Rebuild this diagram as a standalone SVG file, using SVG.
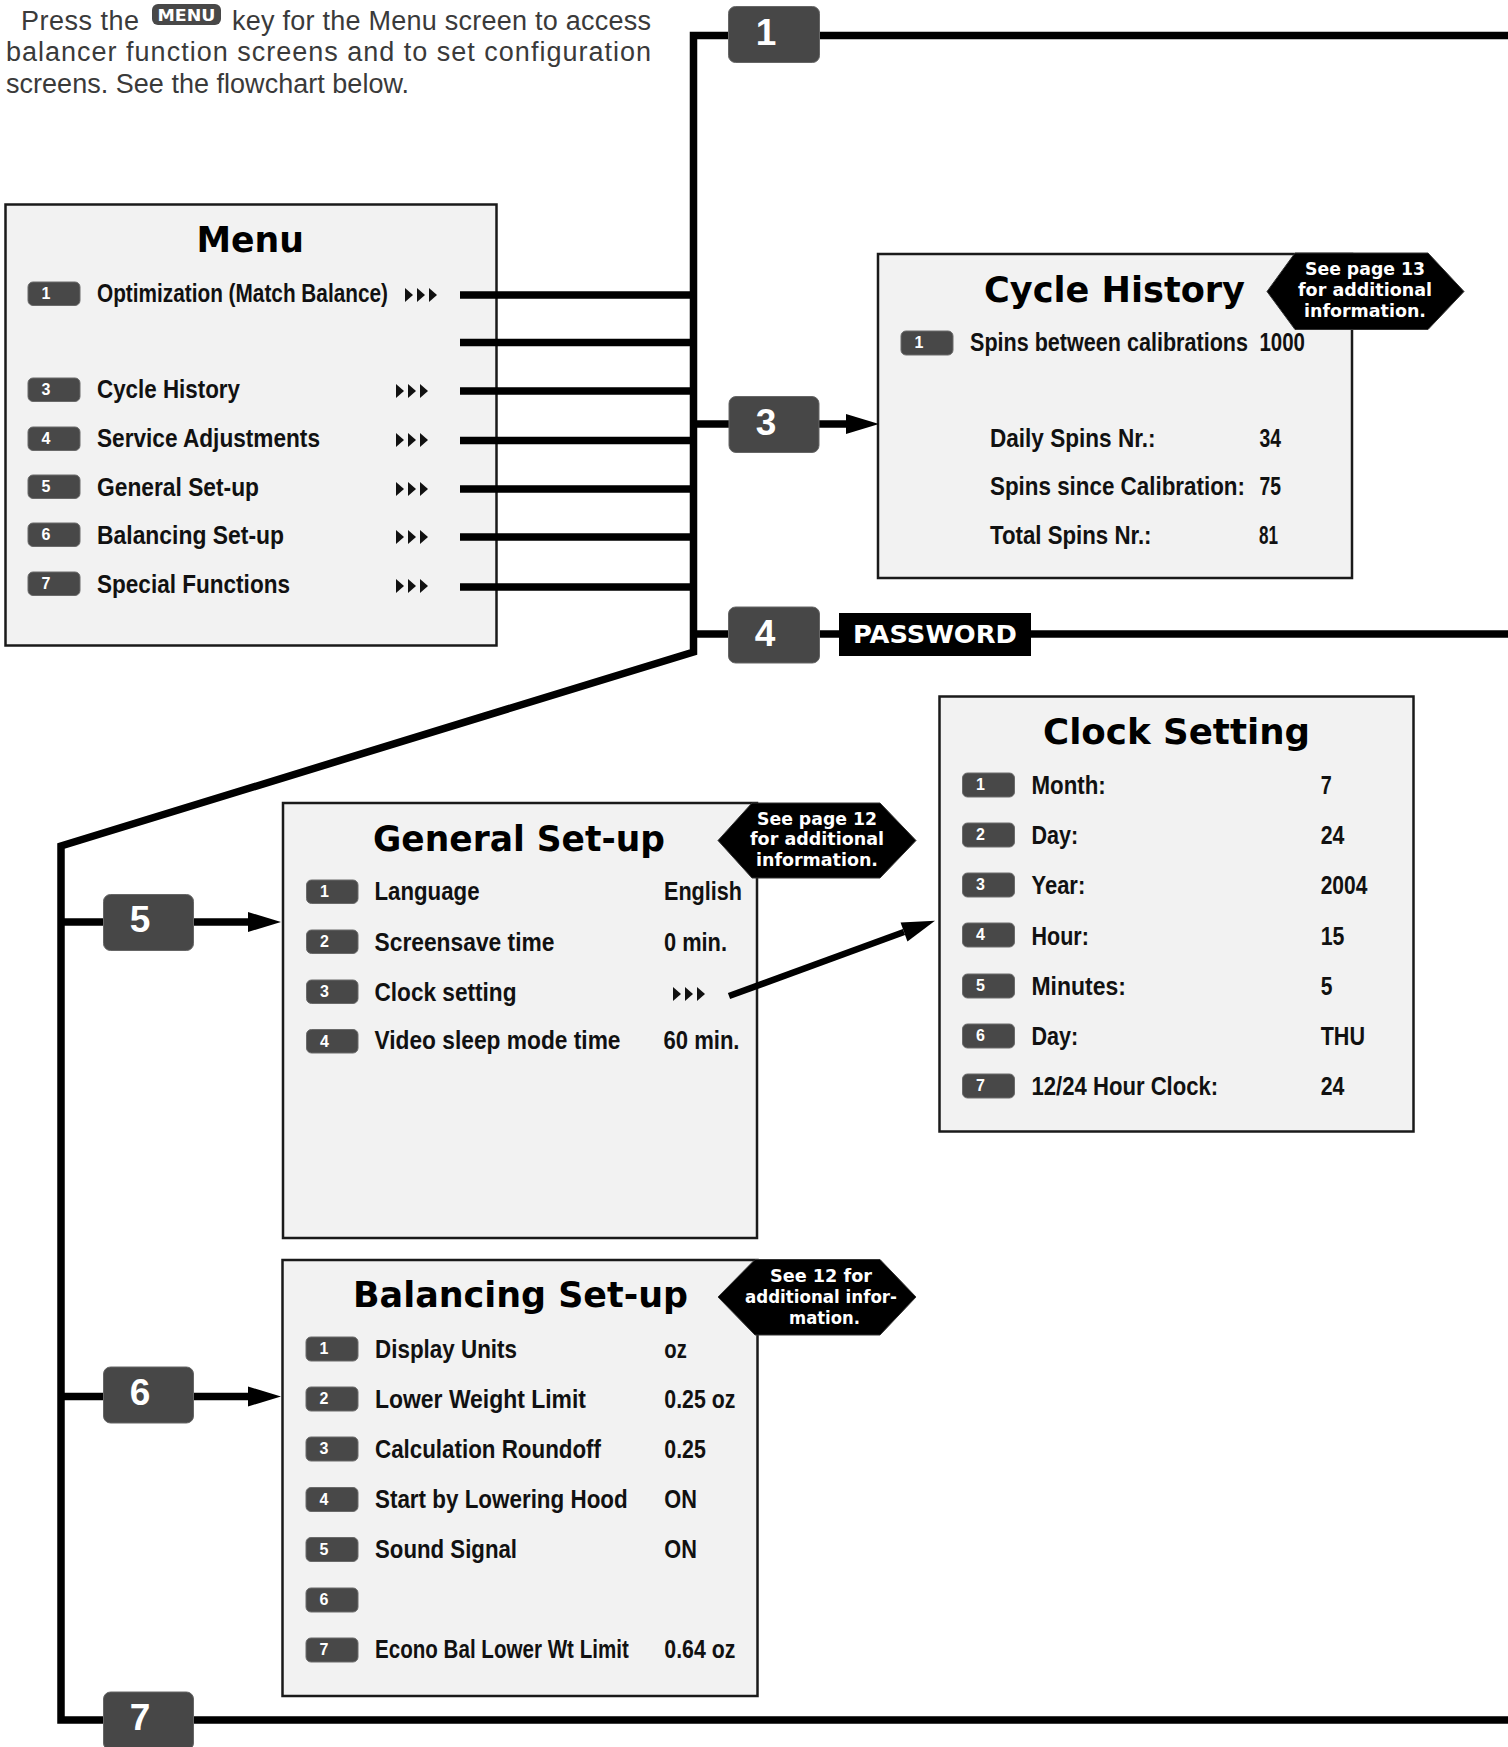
<svg xmlns="http://www.w3.org/2000/svg" xmlns:xlink="http://www.w3.org/1999/xlink" width="1508" height="1747" viewBox="0 0 1508 1747">
<style>
.intro{font-family:"Liberation Sans",Arial,sans-serif;font-size:27px;fill:#3a3a3a}
.title{font-family:"DejaVu Sans",sans-serif;font-weight:bold;font-size:36px;fill:#000}
.item{font-family:"Liberation Sans",Arial,sans-serif;font-weight:bold;font-size:26px;fill:#111}
.panel{fill:#f2f2f2;stroke:#1a1a1a;stroke-width:2.5}
.badge{fill:#484848;stroke:#6a6a6a;stroke-width:1}
.bnum{font-family:"Liberation Sans",Arial,sans-serif;font-weight:bold;font-size:16px;fill:#fff;text-anchor:middle}
.step{fill:#474747;stroke:#666;stroke-width:1}
.snum{font-family:"Liberation Sans",Arial,sans-serif;font-weight:bold;font-size:37px;fill:#fff;text-anchor:middle}
.hex{fill:#000;stroke:#333;stroke-width:1}
.call{font-family:"DejaVu Sans",sans-serif;font-weight:bold;font-size:17px;fill:#fff;text-anchor:middle}
.ln{fill:none;stroke:#000;stroke-width:7.5;stroke-linejoin:miter}
</style>
<defs>
<marker id="arr" markerUnits="userSpaceOnUse" markerWidth="34" markerHeight="22" refX="0" refY="11" orient="auto" overflow="visible">
<path d="M0,1 L33,11 L0,21 z" fill="#000"/>
</marker>
<g id="chev" fill="#111"><path d="M0,0 L8,7 L0,14 z"/><path d="M12,0 L20,7 L12,14 z"/><path d="M24,0 L32,7 L24,14 z"/></g>
</defs>
<rect width="1508" height="1747" fill="#fff"/>

<g id="intro">
<text class="intro" x="21" y="29.5" textLength="118" lengthAdjust="spacing">Press the</text>
<rect x="152" y="4" width="69" height="21" rx="6" fill="#484848"/>
<text x="186.5" y="21" font-family="DejaVu Sans,sans-serif" font-weight="bold" font-size="15" fill="#fff" text-anchor="middle" textLength="58" lengthAdjust="spacingAndGlyphs">MENU</text>
<text class="intro" x="232" y="29.5" textLength="419" lengthAdjust="spacing">key for the Menu screen to access</text>
<text class="intro" x="6" y="61" textLength="645" lengthAdjust="spacing">balancer function screens and to set configuration</text>
<text class="intro" x="6" y="92.5" textLength="403" lengthAdjust="spacing">screens. See the flowchart below.</text>
</g>

<g id="menu">
<rect class="panel" x="5.5" y="204.5" width="491" height="441"/>
<text class="title" x="196.5" y="252" textLength="107.5" lengthAdjust="spacingAndGlyphs">Menu</text>
<rect class="badge" x="28" y="282" width="52" height="23.5" rx="5"/><text class="bnum" x="46" y="299">1</text>
<text class="item" transform="translate(97 302) scale(0.8 1)" textLength="363.75" lengthAdjust="spacingAndGlyphs">Optimization (Match Balance)</text>
<use xlink:href="#chev" x="405" y="288"/>
<rect class="badge" x="28" y="378" width="52" height="23.5" rx="5"/><text class="bnum" x="46" y="395">3</text>
<text class="item" transform="translate(97 398) scale(0.8 1)" textLength="178.75" lengthAdjust="spacingAndGlyphs">Cycle History</text>
<use xlink:href="#chev" x="396" y="384"/>
<rect class="badge" x="28" y="427" width="52" height="23.5" rx="5"/><text class="bnum" x="46" y="444">4</text>
<text class="item" transform="translate(97 447) scale(0.8 1)" textLength="278.75" lengthAdjust="spacingAndGlyphs">Service Adjustments</text>
<use xlink:href="#chev" x="396" y="433"/>
<rect class="badge" x="28" y="475" width="52" height="23.5" rx="5"/><text class="bnum" x="46" y="492">5</text>
<text class="item" transform="translate(97 496) scale(0.8 1)" textLength="202.5" lengthAdjust="spacingAndGlyphs">General Set-up</text>
<use xlink:href="#chev" x="396" y="482"/>
<rect class="badge" x="28" y="523" width="52" height="23.5" rx="5"/><text class="bnum" x="46" y="540">6</text>
<text class="item" transform="translate(97 544) scale(0.8 1)" textLength="233.75" lengthAdjust="spacingAndGlyphs">Balancing Set-up</text>
<use xlink:href="#chev" x="396" y="530"/>
<rect class="badge" x="28" y="572" width="52" height="23.5" rx="5"/><text class="bnum" x="46" y="589">7</text>
<text class="item" transform="translate(97 593) scale(0.8 1)" textLength="241.25" lengthAdjust="spacingAndGlyphs">Special Functions</text>
<use xlink:href="#chev" x="396" y="579"/>
</g>

<g id="cycle-history">
<rect class="panel" x="878" y="254" width="474" height="324"/>
<text class="title" x="984" y="301.5" textLength="261" lengthAdjust="spacingAndGlyphs">Cycle History</text>
<polygon class="hex" points="1267,291.5 1295,253 1428,253 1464,291.5 1428,329.5 1295,329.5"/>
<text class="call" x="1365" y="275" textLength="120" lengthAdjust="spacingAndGlyphs">See page 13</text>
<text class="call" x="1365" y="296" textLength="134" lengthAdjust="spacingAndGlyphs">for additional</text>
<text class="call" x="1365" y="316.5" textLength="122" lengthAdjust="spacingAndGlyphs">information.</text>
<rect class="badge" x="901" y="331" width="52" height="24" rx="5"/><text class="bnum" x="919" y="348">1</text>
<text class="item" transform="translate(970 351) scale(0.8 1)" textLength="347.5" lengthAdjust="spacingAndGlyphs">Spins between calibrations</text>
<text class="item" transform="translate(1259.5 351) scale(0.8 1)" textLength="56.875" lengthAdjust="spacingAndGlyphs">1000</text>
<text class="item" transform="translate(990 447) scale(0.8 1)" textLength="206.875" lengthAdjust="spacingAndGlyphs">Daily Spins Nr.:</text>
<text class="item" transform="translate(1259.5 447) scale(0.8 1)" textLength="26.875" lengthAdjust="spacingAndGlyphs">34</text>
<text class="item" transform="translate(990 495) scale(0.8 1)" textLength="318.75" lengthAdjust="spacingAndGlyphs">Spins since Calibration:</text>
<text class="item" transform="translate(1259.5 495) scale(0.8 1)" textLength="26.875" lengthAdjust="spacingAndGlyphs">75</text>
<text class="item" transform="translate(990 543.5) scale(0.8 1)" textLength="201.875" lengthAdjust="spacingAndGlyphs">Total Spins Nr.:</text>
<text class="item" transform="translate(1259 543.5) scale(0.8 1)" textLength="23.75" lengthAdjust="spacingAndGlyphs">81</text>
</g>

<g id="general-setup">
<rect class="panel" x="283" y="803" width="474" height="435"/>
<text class="title" x="373" y="850.5" textLength="292" lengthAdjust="spacingAndGlyphs">General Set-up</text>
<polygon class="hex" points="718,840.5 752,803 880,803 916,840.5 880,878 752,878"/>
<text class="call" x="817" y="824.5" textLength="120" lengthAdjust="spacingAndGlyphs">See page 12</text>
<text class="call" x="817" y="845" textLength="134" lengthAdjust="spacingAndGlyphs">for additional</text>
<text class="call" x="817" y="865.5" textLength="122" lengthAdjust="spacingAndGlyphs">information.</text>
<rect class="badge" x="306.5" y="880" width="51.5" height="23.5" rx="5"/><text class="bnum" x="324.5" y="897">1</text>
<text class="item" transform="translate(374.5 900) scale(0.8 1)" textLength="131.25" lengthAdjust="spacingAndGlyphs">Language</text>
<text class="item" transform="translate(664 900) scale(0.8 1)" textLength="97.5" lengthAdjust="spacingAndGlyphs">English</text>
<rect class="badge" x="306.5" y="930" width="51.5" height="23.5" rx="5"/><text class="bnum" x="324.5" y="947">2</text>
<text class="item" transform="translate(374.5 951) scale(0.8 1)" textLength="225" lengthAdjust="spacingAndGlyphs">Screensave time</text>
<text class="item" transform="translate(664 951) scale(0.8 1)" textLength="78.75" lengthAdjust="spacingAndGlyphs">0 min.</text>
<rect class="badge" x="306.5" y="980" width="51.5" height="23.5" rx="5"/><text class="bnum" x="324.5" y="997">3</text>
<text class="item" transform="translate(374.5 1001) scale(0.8 1)" textLength="177.5" lengthAdjust="spacingAndGlyphs">Clock setting</text>
<use xlink:href="#chev" x="673" y="987"/>
<rect class="badge" x="306.5" y="1029.5" width="51.5" height="23.5" rx="5"/><text class="bnum" x="324.5" y="1046.5">4</text>
<text class="item" transform="translate(374.5 1049) scale(0.8 1)" textLength="307.5" lengthAdjust="spacingAndGlyphs">Video sleep mode time</text>
<text class="item" transform="translate(663.5 1049) scale(0.8 1)" textLength="95" lengthAdjust="spacingAndGlyphs">60 min.</text>
</g>

<g id="clock-setting">
<rect class="panel" x="939.5" y="696.5" width="474" height="435"/>
<text class="title" x="1043" y="744" textLength="267" lengthAdjust="spacingAndGlyphs">Clock Setting</text>
<rect class="badge" x="962.5" y="773" width="52" height="24" rx="5"/><text class="bnum" x="980.5" y="790">1</text>
<text class="item" transform="translate(1031.5 794) scale(0.8 1)" textLength="92.875" lengthAdjust="spacingAndGlyphs">Month:</text>
<text class="item" transform="translate(1320.7 794) scale(0.8 1)" textLength="13.75" lengthAdjust="spacingAndGlyphs">7</text>
<rect class="badge" x="962.5" y="823" width="52" height="24" rx="5"/><text class="bnum" x="980.5" y="840">2</text>
<text class="item" transform="translate(1031.5 844) scale(0.8 1)" textLength="58.375" lengthAdjust="spacingAndGlyphs">Day:</text>
<text class="item" transform="translate(1320.7 844) scale(0.8 1)" textLength="29.625" lengthAdjust="spacingAndGlyphs">24</text>
<rect class="badge" x="962.5" y="873" width="52" height="24" rx="5"/><text class="bnum" x="980.5" y="890">3</text>
<text class="item" transform="translate(1031.5 894) scale(0.8 1)" textLength="67.125" lengthAdjust="spacingAndGlyphs">Year:</text>
<text class="item" transform="translate(1320.7 894) scale(0.8 1)" textLength="58.375" lengthAdjust="spacingAndGlyphs">2004</text>
<rect class="badge" x="962.5" y="923" width="52" height="24" rx="5"/><text class="bnum" x="980.5" y="940">4</text>
<text class="item" transform="translate(1031.5 945) scale(0.8 1)" textLength="71.625" lengthAdjust="spacingAndGlyphs">Hour:</text>
<text class="item" transform="translate(1320.7 945) scale(0.8 1)" textLength="29.625" lengthAdjust="spacingAndGlyphs">15</text>
<rect class="badge" x="962.5" y="974" width="52" height="24" rx="5"/><text class="bnum" x="980.5" y="991">5</text>
<text class="item" transform="translate(1031.5 995) scale(0.8 1)" textLength="117.875" lengthAdjust="spacingAndGlyphs">Minutes:</text>
<text class="item" transform="translate(1320.7 995) scale(0.8 1)" textLength="14.625" lengthAdjust="spacingAndGlyphs">5</text>
<rect class="badge" x="962.5" y="1024" width="52" height="24" rx="5"/><text class="bnum" x="980.5" y="1041">6</text>
<text class="item" transform="translate(1031.5 1045) scale(0.8 1)" textLength="58.375" lengthAdjust="spacingAndGlyphs">Day:</text>
<text class="item" transform="translate(1320.7 1045) scale(0.8 1)" textLength="55.375" lengthAdjust="spacingAndGlyphs">THU</text>
<rect class="badge" x="962.5" y="1074" width="52" height="24" rx="5"/><text class="bnum" x="980.5" y="1091">7</text>
<text class="item" transform="translate(1031.5 1095) scale(0.8 1)" textLength="233.375" lengthAdjust="spacingAndGlyphs">12/24 Hour Clock:</text>
<text class="item" transform="translate(1320.7 1095) scale(0.8 1)" textLength="29.625" lengthAdjust="spacingAndGlyphs">24</text>
</g>

<g id="balancing-setup">
<rect class="panel" x="282.5" y="1260" width="475" height="436"/>
<text class="title" x="353" y="1307" textLength="335" lengthAdjust="spacingAndGlyphs">Balancing Set-up</text>
<polygon class="hex" points="718,1297 755,1259.5 880,1259.5 916,1297 880,1335 755,1335"/>
<text class="call" x="821" y="1281.5" textLength="102" lengthAdjust="spacingAndGlyphs">See 12 for</text>
<text class="call" x="821" y="1303" textLength="152" lengthAdjust="spacingAndGlyphs">additional infor-</text>
<text class="call" x="824.5" y="1323.5" textLength="71" lengthAdjust="spacingAndGlyphs">mation.</text>
<rect class="badge" x="306" y="1337" width="52" height="24" rx="5"/><text class="bnum" x="324" y="1354">1</text>
<text class="item" transform="translate(375 1358) scale(0.8 1)" textLength="177.5" lengthAdjust="spacingAndGlyphs">Display Units</text>
<text class="item" transform="translate(664.3 1358) scale(0.8 1)" textLength="28.125" lengthAdjust="spacingAndGlyphs">oz</text>
<rect class="badge" x="306" y="1387" width="52" height="24" rx="5"/><text class="bnum" x="324" y="1404">2</text>
<text class="item" transform="translate(375 1407.5) scale(0.8 1)" textLength="263.75" lengthAdjust="spacingAndGlyphs">Lower Weight Limit</text>
<text class="item" transform="translate(664.3 1407.5) scale(0.8 1)" textLength="88.75" lengthAdjust="spacingAndGlyphs">0.25 oz</text>
<rect class="badge" x="306" y="1437" width="52" height="24" rx="5"/><text class="bnum" x="324" y="1454">3</text>
<text class="item" transform="translate(375 1457.5) scale(0.8 1)" textLength="282.5" lengthAdjust="spacingAndGlyphs">Calculation Roundoff</text>
<text class="item" transform="translate(664.3 1457.5) scale(0.8 1)" textLength="51.875" lengthAdjust="spacingAndGlyphs">0.25</text>
<rect class="badge" x="306" y="1487.5" width="52" height="24" rx="5"/><text class="bnum" x="324" y="1504.5">4</text>
<text class="item" transform="translate(375 1508) scale(0.8 1)" textLength="315.875" lengthAdjust="spacingAndGlyphs">Start by Lowering Hood</text>
<text class="item" transform="translate(664.3 1508) scale(0.8 1)" textLength="40.75" lengthAdjust="spacingAndGlyphs">ON</text>
<rect class="badge" x="306" y="1537.5" width="52" height="24" rx="5"/><text class="bnum" x="324" y="1554.5">5</text>
<text class="item" transform="translate(375 1558) scale(0.8 1)" textLength="177.5" lengthAdjust="spacingAndGlyphs">Sound Signal</text>
<text class="item" transform="translate(664.3 1558) scale(0.8 1)" textLength="40.75" lengthAdjust="spacingAndGlyphs">ON</text>
<rect class="badge" x="306" y="1588" width="52" height="24" rx="5"/><text class="bnum" x="324" y="1605">6</text>
<rect class="badge" x="306" y="1638" width="52" height="24" rx="5"/><text class="bnum" x="324" y="1655">7</text>
<text class="item" transform="translate(375 1658) scale(0.8 1)" textLength="317.25" lengthAdjust="spacingAndGlyphs">Econo Bal Lower Wt Limit</text>
<text class="item" transform="translate(664.3 1658) scale(0.8 1)" textLength="88.75" lengthAdjust="spacingAndGlyphs">0.64 oz</text>
</g>

<g id="connectors">
<path class="ln" d="M1508,35.5 H693.5 V652 L61,846 V1720 H1508"/>
<path class="ln" d="M460,295 H693.5 M460,342.5 H693.5 M460,391 H693.5 M460,440.5 H693.5 M460,489 H693.5 M460,537 H693.5 M460,587 H693.5"/>
<path class="ln" d="M693.5,424 H846" marker-end="url(#arr)"/>
<path class="ln" d="M693.5,634 H1508"/>
<path class="ln" d="M61,922 H248" marker-end="url(#arr)"/>
<path class="ln" d="M61,1396.5 H248" marker-end="url(#arr)"/>
<path class="ln" style="stroke-width:6.5" d="M729,996 L904,932" marker-end="url(#arr)"/>
</g>

<g id="step1"><rect class="step" x="728.5" y="6.5" width="91" height="56" rx="7"/><text class="snum" x="766" y="45">1</text></g>
<g id="step3"><rect class="step" x="729" y="396.5" width="90" height="56" rx="7"/><text class="snum" x="766" y="435">3</text></g>
<g id="step4"><rect class="step" x="728.5" y="607" width="91" height="56" rx="7"/><text class="snum" x="765" y="645.5">4</text></g>
<g id="password"><rect x="839" y="613" width="192" height="43" fill="#000"/><text x="935" y="643" font-family="DejaVu Sans,sans-serif" font-weight="bold" font-size="25" fill="#fff" text-anchor="middle" textLength="164" lengthAdjust="spacingAndGlyphs">PASSWORD</text></g>
<g id="step5"><rect class="step" x="103.5" y="894.5" width="90" height="56" rx="7"/><text class="snum" x="140" y="932">5</text></g>
<g id="step6"><rect class="step" x="103.5" y="1367" width="90" height="56" rx="7"/><text class="snum" x="140" y="1404.5">6</text></g>
<g id="step7"><rect class="step" x="103.5" y="1692" width="90" height="58" rx="7"/><text class="snum" x="140" y="1729.5">7</text></g>
</svg>
